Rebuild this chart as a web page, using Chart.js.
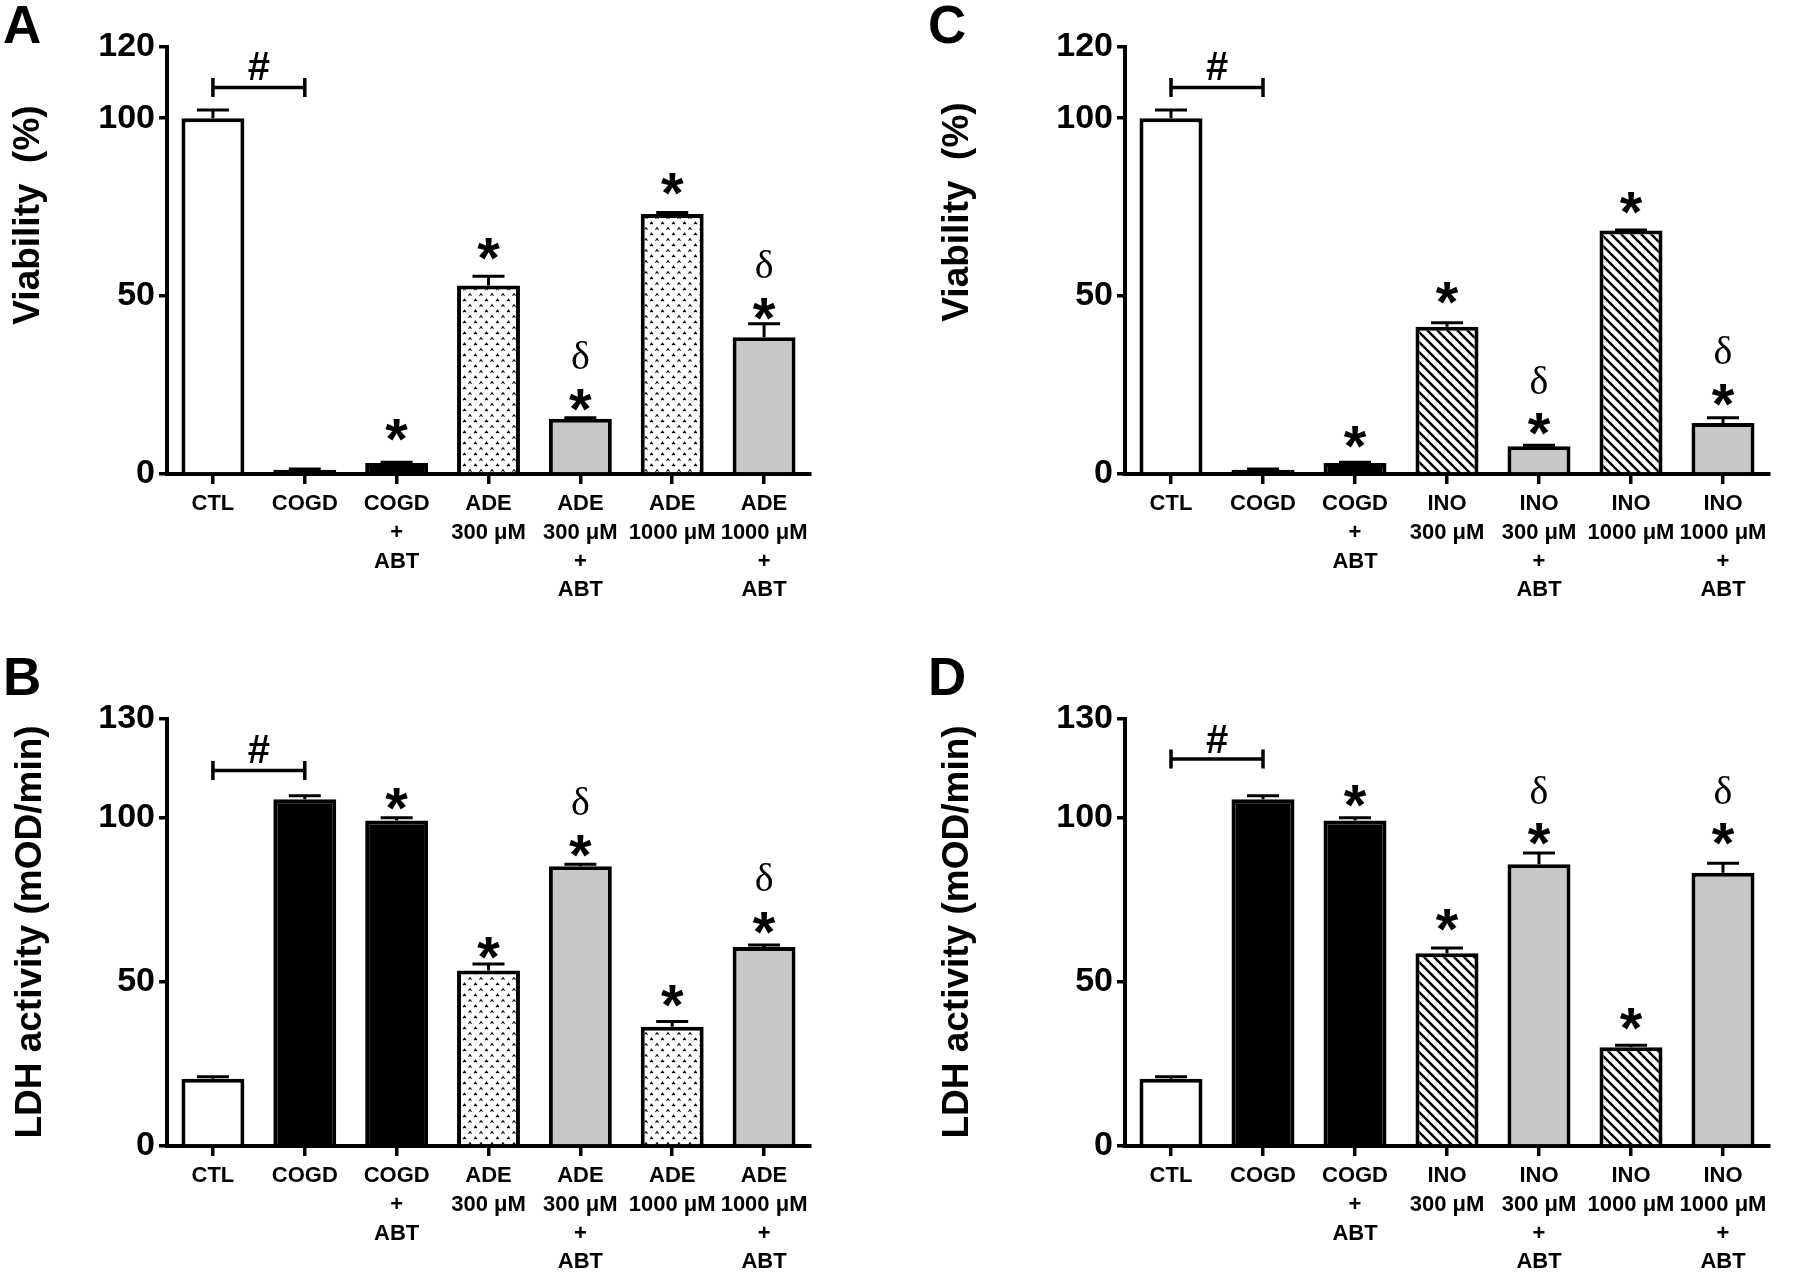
<!DOCTYPE html>
<html>
<head>
<meta charset="utf-8">
<script src="https://cdn.jsdelivr.net/npm/chart.js@4.4.1/dist/chart.umd.min.js"></script>
<style>
  body { margin: 0; background: #fff; }
  #wrap { position: relative; width: 1795px; height: 1281px; }
  canvas { position: absolute; }
  .letter { position: absolute; font: bold 53px/53px 'Liberation Sans', Arial, sans-serif; color: #000; }
</style>
</head>
<body>
<div id="wrap">
  <canvas id="panelA" width="897" height="640" style="left:0;top:0"></canvas>
  <canvas id="panelB" width="897" height="641" style="left:0;top:640px"></canvas>
  <canvas id="panelC" width="898" height="640" style="left:897px;top:0"></canvas>
  <canvas id="panelD" width="898" height="641" style="left:897px;top:640px"></canvas>
  <div class="letter" style="left:3px;top:-2px">A</div>
  <div class="letter" style="left:3px;top:650px">B</div>
  <div class="letter" style="left:928px;top:-2px">C</div>
  <div class="letter" style="left:928px;top:650px">D</div>
</div>
<script>
// categories
const labelsADE = [['CTL'], ['COGD'], ['COGD', '+', 'ABT'], ['ADE', '300 μM'], ['ADE', '300 μM', '+', 'ABT'], ['ADE', '1000 μM'], ['ADE', '1000 μM', '+', 'ABT']];
const labelsINO = [['CTL'], ['COGD'], ['COGD', '+', 'ABT'], ['INO', '300 μM'], ['INO', '300 μM', '+', 'ABT'], ['INO', '1000 μM'], ['INO', '1000 μM', '+', 'ABT']];

// A: viability, adenosine
const viabilityADE = [100, 1.2, 3.1, 53.0, 15.5, 73.1, 38.4];
const viabilityADEErr = [2.3, 0.2, 0.2, 2.6, 0.3, 0.4, 3.8];
// B: LDH, adenosine
const ldhADE = [20.5, 105.6, 99.1, 53.4, 85.2, 36.3, 60.6];
const ldhADEErr = [0.6, 1.0, 0.8, 2.0, 0.6, 1.6, 0.6];
// C: viability, inosine
const viabilityINO = [100, 1.2, 3.1, 41.4, 7.8, 68.4, 14.3];
const viabilityINOErr = [2.3, 0.2, 0.2, 1.1, 0.3, 0.2, 1.5];
// D: LDH, inosine
const ldhINO = [20.5, 105.6, 99.1, 58.7, 85.8, 30.1, 83.2];
const ldhINOErr = [0.6, 1.0, 0.8, 1.6, 3.4, 0.6, 2.9];

// tick labels
const viabilityTicks = [0, 50, 100, 120];
const ldhTicks = [0, 50, 100, 130];

// significance marks (y value of each symbol, null = none)
const starsA = [null, null, 13.7, 64.6, 22.3, 82.9, 47.9];
const deltaA = [null, null, null, null, 33.2, null, 58.7];
const starsB = [null, null, 107.2, 61.8, 92.9, 47.3, 69.3];
const deltaB = [null, null, null, null, 104.7, null, 81.7];
const starsC = [null, null, 11.7, 52.3, 15.5, 77.7, 23.5];
const deltaC = [null, null, null, null, 26.1, null, 34.6];
const starsD = [null, null, 108.1, 70.3, 96.4, 40.1, 96.4];
const deltaD = [null, null, null, null, 108.1, null, 108.1];
// "#" bracket CTL vs COGD: [bracket line, hash sign]
const hashA = [108.6, 114.6];
const hashB = [114.3, 120.9];
const hashC = [108.6, 114.6];
const hashD = [117.8, 124.0];

const SANS = "'Liberation Sans', Arial, sans-serif";
const SERIF = "'Liberation Serif', 'Times New Roman', serif";
const GREY = '#c8c8c8';

function stipple() {
    const c = document.createElement('canvas');
    c.width = 11; c.height = 11;
    const g = c.getContext('2d');
    g.fillStyle = '#fff';
    g.fillRect(0, 0, 11, 11);
    g.strokeStyle = '#000';
    g.lineWidth = 1.1;
    [[2.5, 3], [8, 8.5]].forEach(function(pt) {
        g.beginPath();
        g.moveTo(pt[0] - 1.5, pt[1] + 1.2);
        g.lineTo(pt[0], pt[1] - 0.9);
        g.lineTo(pt[0] + 1.5, pt[1] + 1.2);
        g.stroke();
    });
    return g.createPattern(c, 'repeat');
}

function hatch() {
    const c = document.createElement('canvas');
    c.width = 10; c.height = 10;
    const g = c.getContext('2d');
    g.fillStyle = '#fff';
    g.fillRect(0, 0, 10, 10);
    g.strokeStyle = '#000';
    g.lineWidth = 2.4;
    g.beginPath();
    g.moveTo(-1, -1); g.lineTo(11, 11);
    g.moveTo(-1, 9); g.lineTo(1, 11);
    g.moveTo(9, -1); g.lineTo(11, 1);
    g.stroke();
    return g.createPattern(c, 'repeat');
}

const dots = stipple();
const lines = hatch();
const fillsADE = ['#fff', '#000', '#000', dots, GREY, dots, GREY];
const fillsINO = ['#fff', '#000', '#000', lines, GREY, lines, GREY];

function makePanel(id, p) {
    const ctx = document.getElementById(id).getContext('2d');

    const extras = {
        id: 'extras',
        afterDatasetsDraw(chart) {
            const c = chart.ctx;
            const y = chart.scales.y;
            const bars = chart.getDatasetMeta(0).data;
            c.save();
            c.strokeStyle = '#000';
            c.fillStyle = '#000';
            // error bars (upper only)
            c.lineWidth = 3;
            bars.forEach(function(bar, i) {
                const top = y.getPixelForValue(p.values[i] + p.errors[i]);
                c.beginPath();
                c.moveTo(bar.x, bar.y);
                c.lineTo(bar.x, top);
                c.moveTo(bar.x - 16, top);
                c.lineTo(bar.x + 16, top);
                c.stroke();
            });
            // stars and deltas
            c.textAlign = 'center';
            c.textBaseline = 'alphabetic';
            bars.forEach(function(bar, i) {
                if (p.stars[i] !== null) {
                    c.font = 'bold 58px ' + SANS;
                    c.fillText('*', bar.x, y.getPixelForValue(p.stars[i]) + 34);
                }
                if (p.deltas[i] !== null) {
                    c.font = '40px ' + SERIF;
                    c.fillText('δ', bar.x, y.getPixelForValue(p.deltas[i]) + 13);
                }
            });
            // # bracket
            const x0 = bars[0].x, x1 = bars[1].x;
            const yb = y.getPixelForValue(p.hash[0]);
            c.lineWidth = 3.5;
            c.beginPath();
            c.moveTo(x0, yb); c.lineTo(x1, yb);
            c.moveTo(x0, yb - 9.5); c.lineTo(x0, yb + 9.5);
            c.moveTo(x1, yb - 9.5); c.lineTo(x1, yb + 9.5);
            c.stroke();
            c.font = 'bold 40px ' + SANS;
            c.fillText('#', (x0 + x1) / 2, y.getPixelForValue(p.hash[1]) + 14);
            // y axis title
            c.translate(p.titleX, p.titleY);
            c.rotate(-Math.PI / 2);
            c.font = 'bold 37px ' + SANS;
            c.textBaseline = 'middle';
            c.fillText(p.title, 0, 0);
            c.restore();
        }
    };

    return new Chart(ctx, {
        type: 'bar',
        data: {
            labels: p.labels,
            datasets: [{
                data: p.values,
                backgroundColor: p.fills,
                borderColor: '#000',
                borderWidth: 4,
                barPercentage: 0.685,
                categoryPercentage: 1
            }]
        },
        options: {
            responsive: false,
            animation: false,
            layout: { padding: { left: 0, top: p.top, right: p.right, bottom: 0 } },
            plugins: { legend: { display: false }, tooltip: { enabled: false } },
            scales: {
                x: {
                    grid: { offset: false, drawOnChartArea: false, color: '#000', lineWidth: 3.5, tickLength: 10 },
                    border: { color: '#000', width: 4 },
                    ticks: {
                        color: '#000', autoSkip: false, maxRotation: 0, padding: 6,
                        font: { family: SANS, size: 22, weight: 'bold', lineHeight: 1.3 }
                    },
                    afterFit(s) { s.height = p.xHeight; }
                },
                y: {
                    min: 0,
                    max: p.ticks[p.ticks.length - 1],
                    afterBuildTicks(s) { s.ticks = p.ticks.map(function(v) { return { value: v }; }); },
                    grid: { drawOnChartArea: false, color: '#000', lineWidth: 3.5, tickLength: 8 },
                    border: { color: '#000', width: 4 },
                    ticks: { color: '#000', padding: 4, font: { family: SANS, size: 34, weight: 'bold' } },
                    afterFit(s) { s.width = p.yWidth; }
                }
            }
        },
        plugins: [extras]
    });
}

makePanel('panelA', {
    labels: labelsADE, values: viabilityADE, errors: viabilityADEErr, fills: fillsADE,
    ticks: viabilityTicks, stars: starsA, deltas: deltaA, hash: hashA,
    title: 'Viability  (%)', titleX: 29, titleY: 215,
    top: 47, right: 87, xHeight: 166, yWidth: 167
});
makePanel('panelB', {
    labels: labelsADE, values: ldhADE, errors: ldhADEErr, fills: fillsADE,
    ticks: ldhTicks, stars: starsB, deltas: deltaB, hash: hashB,
    title: 'LDH activity (mOD/min)', titleX: 31, titleY: 292,
    top: 79, right: 87, xHeight: 135, yWidth: 167
});
makePanel('panelC', {
    labels: labelsINO, values: viabilityINO, errors: viabilityINOErr, fills: fillsINO,
    ticks: viabilityTicks, stars: starsC, deltas: deltaC, hash: hashC,
    title: 'Viability  (%)', titleX: 61, titleY: 212,
    top: 47, right: 26, xHeight: 166, yWidth: 228
});
makePanel('panelD', {
    labels: labelsINO, values: ldhINO, errors: ldhINOErr, fills: fillsINO,
    ticks: ldhTicks, stars: starsD, deltas: deltaD, hash: hashD,
    title: 'LDH activity (mOD/min)', titleX: 61, titleY: 292,
    top: 79, right: 26, xHeight: 135, yWidth: 228
});
</script>
</body>
</html>
